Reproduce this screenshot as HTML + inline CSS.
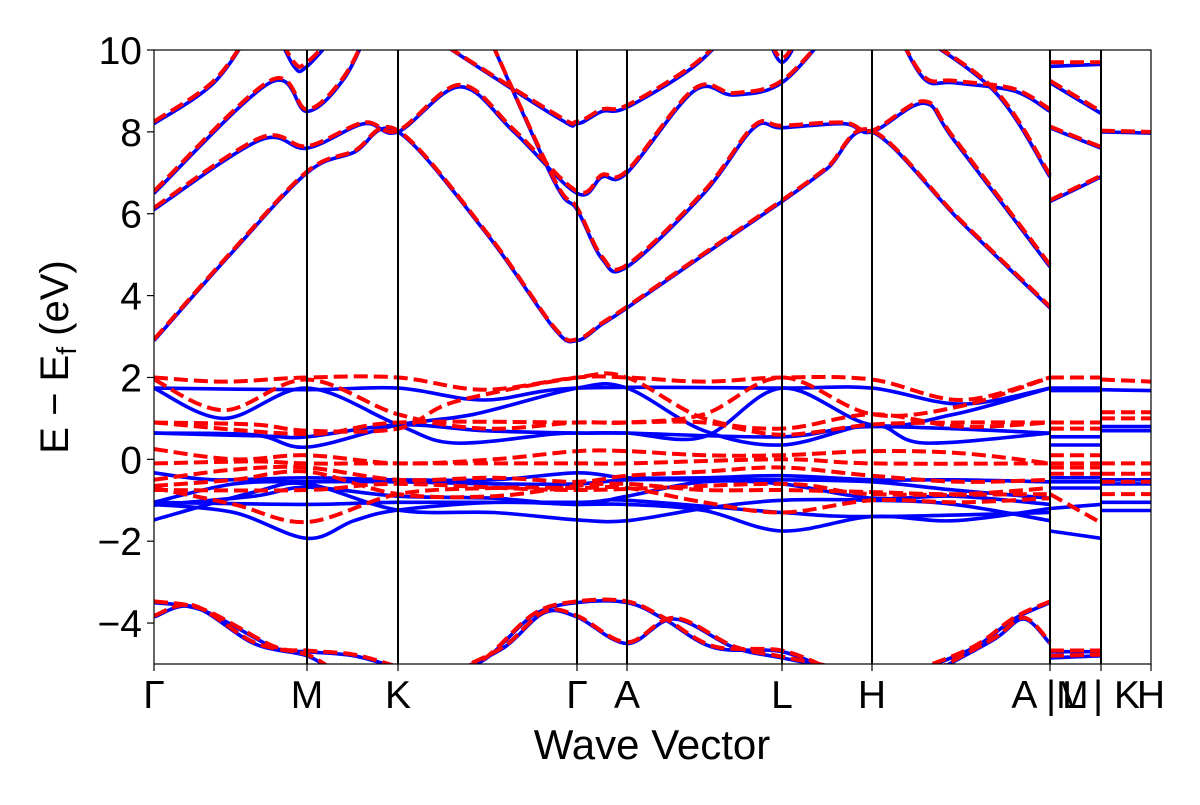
<!DOCTYPE html>
<html><head><meta charset="utf-8"><style>
body{margin:0;background:#fff;}
svg text{font-family:"Liberation Sans","DejaVu Sans",sans-serif;fill:#000;}
</style></head><body>
<svg id="chart" width="1200" height="800" xmlns="http://www.w3.org/2000/svg">
<defs><clipPath id="clip"><rect x="154" y="50" width="997" height="614"/></clipPath></defs>
<g id="plot" clip-path="url(#clip)"></g>
<g id="axes"></g>
<text transform="translate(68,357) rotate(-90)" text-anchor="middle" font-size="40">E − E<tspan font-size="28" dy="8">f</tspan><tspan dy="-8"> (eV)</tspan></text>
<text x="652" y="759" text-anchor="middle" font-size="42">Wave Vector</text>
</svg>
<script>
const yTicks=[10,8,6,4,2,0,-2,-4];
const kLabels=["Γ","M","K","Γ","A","L","H","A |M","L | K","H"];
const kLabelPos=[0,153,244,423,473,628,718,896,947,997];
const kLines=[153,244,423,473,628,718,896,947];
// blue (DFT) bands: [k,E]
const blue=[
[[0,2.9],[76,5.0],[153,7.0],[200,7.5],[244,8.0],[333,5.5],[400,3.2],[423,2.9],[448,3.3],[473,3.7],[550,5.0],[628,6.3],[673,7.1],[718,8.0],[807,5.8],[896,3.7]],
[[0,6.1],[106,7.8],[153,7.6],[210,8.2],[244,8.0],[306,9.1],[360,8.0],[423,6.5],[448,6.9],[473,7.0],[540,9.0],[580,8.9],[628,9.2],[680,10.6]],
[[330,10.6],[400,6.8],[423,6.1],[448,4.9],[473,4.7],[550,6.5],[600,8.1],[628,8.1],[690,8.2],[718,8.0],[770,8.7],[800,7.8],[896,4.7]],
[[0,6.5],[116,9.2],[153,8.5],[190,9.3],[216,10.6]],
[[750,10.6],[840,9.0],[896,6.9]],
[[0,8.2],[60,9.2],[100,10.6]],
[[120,10.6],[140,9.6],[153,9.6],[190,10.6]],
[[260,10.6],[400,8.4],[423,8.2],[448,8.5],[473,8.6],[540,9.6],[580,10.6]],
[[610,10.6],[628,9.7],[650,10.6]],
[[740,10.6],[770,9.3],[800,9.2],[860,9.0],[896,8.5]],
[[0,-3.5],[50,-3.7],[120,-4.6],[153,-4.7],[200,-4.8],[244,-5.1]],
[[0,-3.85],[40,-3.6],[100,-4.5],[153,-4.8],[180,-5.2]],
[[290,-5.2],[330,-4.9],[380,-3.8],[423,-3.5],[473,-3.5],[510,-3.9],[560,-4.6],[628,-4.7],[680,-5.2]],
[[300,-5.2],[350,-4.6],[390,-3.75],[423,-3.85],[473,-4.5],[520,-3.9],[580,-4.6],[628,-4.85],[700,-5.2]],
[[760,-5.2],[820,-4.6],[860,-3.9],[896,-3.5]],
[[780,-5.2],[840,-4.4],[870,-3.9],[896,-4.5]],
[[0,1.74],[153,1.7],[244,1.74],[330,1.45],[423,1.74],[628,1.74],[718,1.74],[807,1.35],[896,1.74]],
[[0,1.74],[70,1.0],[153,1.74],[244,0.84],[300,0.4],[400,0.62],[423,0.64],[473,0.64],[550,0.55],[628,1.74],[718,0.84],[800,1.1],[896,1.74]],
[[0,0.64],[100,0.6],[153,0.3],[244,0.84],[320,1.1],[423,1.74],[473,1.74],[550,0.7],[628,0.35],[718,0.84],[770,0.4],[896,0.64]],
[[0,0.64],[110,0.57],[153,0.55],[244,0.84],[330,0.7],[423,0.64],[473,0.64],[628,0.55],[718,0.8],[896,0.64]],
[[0,-0.33],[60,-0.5],[153,-0.45],[244,-0.5],[340,-0.5],[423,-0.33],[473,-0.45],[550,-0.45],[628,-0.4],[718,-0.5],[800,-0.5],[896,-0.55]],
[[0,-1.05],[80,-0.6],[153,-0.55],[244,-0.55],[340,-0.6],[423,-0.6],[473,-0.5],[550,-0.5],[628,-0.5],[718,-0.55],[800,-0.75],[896,-0.95]],
[[0,-1.12],[100,-0.9],[153,-0.68],[244,-0.9],[340,-0.95],[423,-1.1],[473,-0.9],[550,-0.55],[628,-0.6],[718,-0.95],[800,-0.9],[896,-1.1]],
[[0,-1.48],[100,-0.8],[153,-0.6],[244,-1.24],[340,-1.3],[423,-1.48],[473,-1.5],[550,-1.2],[628,-1.0],[718,-1.0],[800,-1.1],[896,-1.5]],
[[0,-1.1],[80,-1.3],[153,-1.93],[200,-1.5],[244,-1.24],[340,-1.05],[423,-1.1],[473,-1.1],[550,-1.25],[628,-1.75],[718,-1.4],[800,-1.5],[896,-1.2]],
[[0,-1.05],[153,-1.1],[244,-1.05],[423,-1.05],[473,-1.0],[628,-1.3],[718,-1.4],[896,-1.3]],
[[896,6.3],[947,6.9]],[[896,8.1],[947,7.6]],[[896,9.2],[947,8.45]],[[896,9.6],[947,9.65]],[[896,-4.7],[947,-4.7]],[[896,-4.85],[947,-4.8]],
[[896,1.74],[947,1.74]],[[896,1.68],[947,1.68]],[[896,0.55],[947,0.55]],[[896,0.35],[947,0.35]],[[896,-0.45],[947,-0.45]],[[896,-0.55],[947,-0.55]],[[896,-0.7],[947,-0.7]],[[896,-1.2],[947,-1.1]],[[896,-1.75],[947,-1.93]],
[[947,8.0],[997,7.97]],[[947,1.7],[997,1.68]],[[947,0.8],[997,0.8]],[[947,0.7],[997,0.7]],[[947,-0.5],[997,-0.5]],[[947,-0.6],[997,-0.6]],[[947,-1.05],[997,-1.05]],[[947,-1.25],[997,-1.25]]
];
// red (model) bands: [k,E]
const red=[
[[0,2.93],[76,5.03],[153,7.03],[200,7.53],[244,8.03],[333,5.53],[400,3.23],[423,2.93],[448,3.33],[473,3.73],[550,5.03],[628,6.33],[673,7.13],[718,8.03],[807,5.83],[896,3.73]],
[[0,6.15],[106,7.85],[153,7.65],[210,8.23],[244,8.03],[306,9.15],[360,8.05],[423,6.55],[448,6.95],[473,7.05],[540,9.05],[580,8.95],[628,9.25],[680,10.6]],
[[330,10.6],[400,6.85],[423,6.15],[448,4.95],[473,4.75],[550,6.55],[600,8.15],[628,8.15],[690,8.23],[718,8.03],[770,8.75],[800,7.85],[896,4.75]],
[[0,6.55],[116,9.25],[153,8.55],[190,9.35],[216,10.6]],
[[750,10.6],[840,9.05],[896,6.95]],
[[0,8.25],[60,9.25],[100,10.6]],
[[120,10.6],[140,9.7],[153,9.7],[190,10.6]],
[[260,10.6],[400,8.45],[423,8.25],[448,8.55],[473,8.65],[540,9.65],[580,10.6]],
[[610,10.6],[628,9.8],[650,10.6]],
[[740,10.6],[770,9.35],[800,9.25],[860,9.05],[896,8.55]],
[[0,-3.47],[50,-3.67],[120,-4.57],[153,-4.67],[200,-4.77],[244,-5.07]],
[[0,-3.82],[40,-3.57],[100,-4.47],[153,-4.77],[180,-5.17]],
[[290,-5.17],[330,-4.87],[380,-3.77],[423,-3.47],[473,-3.47],[510,-3.87],[560,-4.57],[628,-4.67],[680,-5.17]],
[[300,-5.17],[350,-4.57],[390,-3.72],[423,-3.82],[473,-4.47],[520,-3.87],[580,-4.57],[628,-4.82],[700,-5.17]],
[[760,-5.17],[820,-4.57],[860,-3.87],[896,-3.47]],
[[780,-5.17],[840,-4.37],[870,-3.87],[896,-4.47]],
[[0,2.0],[70,1.9],[153,2.0],[244,2.0],[330,1.7],[423,2.0],[473,2.0],[550,1.9],[628,2.0],[718,1.95],[807,1.45],[896,2.0]],
[[0,1.95],[70,1.2],[153,1.95],[244,1.1],[330,0.75],[423,0.9],[473,0.9],[550,1.1],[628,2.0],[718,1.1],[807,1.3],[896,2.0]],
[[0,0.9],[100,0.85],[153,0.7],[244,0.75],[300,1.4],[423,2.0],[473,2.0],[550,1.0],[628,0.75],[718,1.1],[807,0.8],[896,0.9]],
[[0,0.9],[153,0.62],[244,0.9],[423,0.9],[473,0.9],[550,0.9],[628,0.6],[718,0.85],[807,0.9],[896,0.9]],
[[0,0.25],[80,0.0],[153,0.1],[244,-0.1],[340,0.0],[423,0.2],[473,0.2],[550,0.1],[628,0.1],[718,0.2],[807,0.15],[896,-0.1]],
[[0,-0.1],[100,-0.05],[153,-0.1],[244,-0.1],[423,-0.1],[473,-0.1],[628,0.0],[718,-0.1],[896,-0.1]],
[[0,-0.5],[80,-0.25],[153,-0.2],[244,-0.5],[340,-0.45],[423,-0.55],[473,-0.4],[550,-0.3],[628,-0.2],[718,-0.4],[807,-0.55],[896,-0.5]],
[[0,-0.65],[80,-0.5],[153,-0.3],[244,-0.85],[340,-0.9],[423,-0.65],[473,-0.6],[550,-0.75],[628,-0.75],[718,-0.8],[807,-0.85],[896,-0.7]],
[[0,-0.7],[80,-1.1],[153,-1.53],[244,-0.85],[340,-0.7],[423,-0.7],[473,-0.7],[550,-1.05],[628,-1.3],[718,-1.0],[807,-1.05],[896,-0.95]],
[[0,-0.75],[153,-0.75],[244,-0.6],[423,-0.75],[628,-0.6],[718,-0.85],[896,-0.85]],
[[896,6.33],[947,6.93]],[[896,8.13],[947,7.63]],[[896,9.25],[947,8.5]],[[896,9.7],[947,9.7]],[[896,-4.67],[947,-4.67]],[[896,-4.8],[947,-4.77]],
[[896,2.0],[947,2.0]],[[896,0.9],[947,0.9]],[[896,0.75],[947,0.75]],[[896,0.1],[947,0.1]],[[896,-0.1],[947,-0.1]],[[896,-0.2],[947,-0.2]],[[896,-0.35],[947,-0.35]],[[896,-0.85],[947,-1.55]],
[[947,8.03],[997,8.0]],[[947,1.95],[997,1.9]],[[947,1.15],[997,1.15]],[[947,1.0],[997,1.0]],[[947,-0.1],[997,-0.1]],[[947,-0.35],[997,-0.35]],[[947,-0.55],[997,-0.55]],[[947,-0.85],[997,-0.85]]
];
const NS='http://www.w3.org/2000/svg';
const X0=154,X1=1151,Y0=50,Y1=664,KMAX=997,EMIN=-5,EMAX=10;
function xs(k){return X0+(k/KMAX)*(X1-X0);}
function ys(e){return Y1-(e-EMIN)/(EMAX-EMIN)*(Y1-Y0);}
function pathFor(pts){
  const p=pts.map(d=>[xs(d[0]),ys(d[1])]);
  let s='M'+p[0][0].toFixed(1)+','+p[0][1].toFixed(1);
  for(let i=0;i<p.length-1;i++){
    const a=p[i-1]||p[i],b=p[i],c=p[i+1],d=p[i+2]||c;
    const c1=[b[0]+(c[0]-a[0])/6,b[1]+(c[1]-a[1])/6];
    const c2=[c[0]-(d[0]-b[0])/6,c[1]-(d[1]-b[1])/6];
    s+='C'+c1[0].toFixed(1)+','+c1[1].toFixed(1)+' '+c2[0].toFixed(1)+','+c2[1].toFixed(1)+' '+c[0].toFixed(1)+','+c[1].toFixed(1);
  }
  return s;
}
const plot=document.getElementById('plot');
blue.forEach(b=>{
  const el=document.createElementNS(NS,'path');
  el.setAttribute('d',pathFor(b));
  el.setAttribute('fill','none');el.setAttribute('stroke','#0000ff');el.setAttribute('stroke-width','3.6');
  
  
  plot.appendChild(el);
});
red.forEach(b=>{
  const el=document.createElementNS(NS,'path');
  el.setAttribute('d',pathFor(b));
  el.setAttribute('fill','none');el.setAttribute('stroke','#ff0000');el.setAttribute('stroke-width','4');
  el.setAttribute('stroke-dasharray','14,6');
  
  
  plot.appendChild(el);
});
const axes=document.getElementById('axes');
kLines.forEach(k=>{
  const l=document.createElementNS(NS,'line');
  l.setAttribute('x1',xs(k));l.setAttribute('x2',xs(k));l.setAttribute('y1',Y0);l.setAttribute('y2',Y1);
  l.setAttribute('stroke','#000');l.setAttribute('stroke-width','2');
  
  
  axes.appendChild(l);
});
const fr=document.createElementNS(NS,'rect');
fr.setAttribute('x',X0);fr.setAttribute('y',Y0);fr.setAttribute('width',X1-X0);fr.setAttribute('height',Y1-Y0);
fr.setAttribute('fill','none');fr.setAttribute('stroke','#000');fr.setAttribute('stroke-width','1.2');


axes.appendChild(fr);
yTicks.forEach(v=>{
  const t=document.createElementNS(NS,'line');
  t.setAttribute('x1',X0-7);t.setAttribute('x2',X0);t.setAttribute('y1',ys(v));t.setAttribute('y2',ys(v));
  t.setAttribute('stroke','#000');t.setAttribute('stroke-width','1.2');
  
  
  axes.appendChild(t);
  const tx=document.createElementNS(NS,'text');
  tx.setAttribute('x',X0-12);tx.setAttribute('y',ys(v)+14);tx.setAttribute('text-anchor','end');tx.setAttribute('font-size','39');
  tx.textContent=(v<0?'−':'')+Math.abs(v);
  
  
  axes.appendChild(tx);
});
kLabels.forEach((s,i)=>{
  const t=document.createElementNS(NS,'line');
  t.setAttribute('x1',xs(kLabelPos[i]));t.setAttribute('x2',xs(kLabelPos[i]));t.setAttribute('y1',Y1);t.setAttribute('y2',Y1+7);
  t.setAttribute('stroke','#000');t.setAttribute('stroke-width','1.2');
  
  
  axes.appendChild(t);
  const tx=document.createElementNS(NS,'text');
  tx.setAttribute('x',xs(kLabelPos[i]));tx.setAttribute('y',Y1+44);tx.setAttribute('text-anchor','middle');tx.setAttribute('font-size','39');
  tx.textContent=s;
  
  
  axes.appendChild(tx);
});
</script>
</body></html>
